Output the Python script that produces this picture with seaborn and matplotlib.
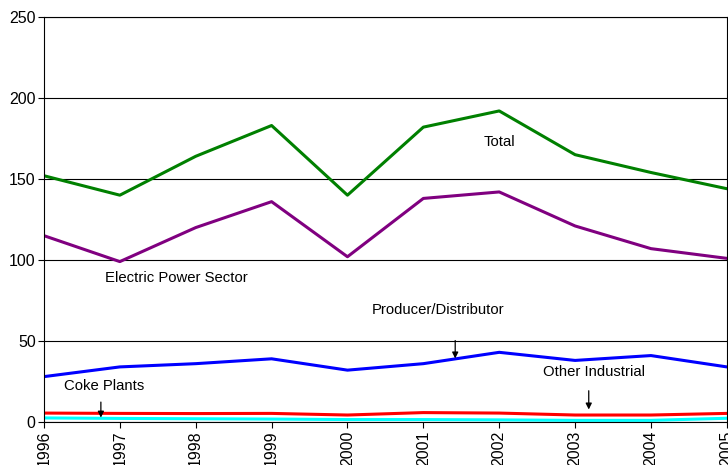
import matplotlib
matplotlib.use("Agg")
import matplotlib.pyplot as plt
import seaborn as sns
import pandas as pd

years = [1996, 1997, 1998, 1999, 2000, 2001, 2002, 2003, 2004, 2005]
total = [152, 140, 164, 183, 140, 182, 192, 165, 154, 144]
electric = [115, 99, 120, 136, 102, 138, 142, 121, 107, 101]
producer = [28, 34, 36, 39, 32, 36, 43, 38, 41, 34]
other_ind = [5.5, 5.3, 5.2, 5.3, 4.3, 5.8, 5.5, 4.3, 4.3, 5.3]
coke = [2.5, 2.2, 2.0, 1.8, 1.5, 1.5, 1.3, 1.0, 1.0, 2.3]

series = {
    "Total": total,
    "Electric Power Sector": electric,
    "Producer/Distributor": producer,
    "Other Industrial": other_ind,
    "Coke Plants": coke,
}
colors = {
    "Total": "#008000",
    "Electric Power Sector": "#800080",
    "Producer/Distributor": "#0000FF",
    "Other Industrial": "#FF0000",
    "Coke Plants": "#00FFFF",
}

df = pd.DataFrame([(y, name, v) for name, vals in series.items() for y, v in zip(years, vals)],
                  columns=["year", "sector", "value"])

sns.set_style("white")
plt.rcParams["font.family"] = ["Liberation Sans", "DejaVu Sans"]
plt.rcParams["text.color"] = "black"

fig = plt.figure(figsize=(7.28, 4.65), dpi=100)
ax = fig.add_axes([0.0604, 0.0925, 0.938, 0.871])

ax.yaxis.grid(True, color="black", linewidth=0.8)
ax.set_axisbelow(True)
sns.lineplot(data=df, x="year", y="value", hue="sector", palette=colors,
             linewidth=2.2, legend=False, ax=ax)

ax.set_xlim(1996, 2005)
ax.set_ylim(0, 250)
ax.set_yticks([0, 50, 100, 150, 200, 250])
ax.set_xticks(years)
ax.set_xticklabels([str(y) for y in years], rotation=90)
ax.tick_params(axis="both", labelsize=11.5, direction="out", length=4, width=0.8,
               colors="black", bottom=True, left=True, pad=2)
ax.set_xlabel("")
ax.set_ylabel("")
for s in ax.spines.values():
    s.set_color("black")
    s.set_linewidth(0.8)

fs = 10.7
ax.text(2002.0, 173, "Total", fontsize=fs, ha="center", va="center")
ax.text(1996.8, 89, "Electric Power Sector", fontsize=fs, ha="left", va="center")
ax.text(2001.2, 69, "Producer/Distributor", fontsize=fs, ha="center", va="center")
ax.text(2003.25, 31, "Other Industrial", fontsize=fs, ha="center", va="center")
ax.text(1996.27, 22, "Coke Plants", fontsize=fs, ha="left", va="center")

arrow = dict(arrowstyle="-|>", color="black", lw=0.9, mutation_scale=9)
ax.annotate("", xy=(2001.42, 37.5), xytext=(2001.42, 52), arrowprops=arrow)
ax.annotate("", xy=(2003.18, 6), xytext=(2003.18, 21), arrowprops=arrow)
ax.annotate("", xy=(1996.75, 1), xytext=(1996.75, 14), arrowprops=arrow)

fig.savefig("out.png", dpi=100)
